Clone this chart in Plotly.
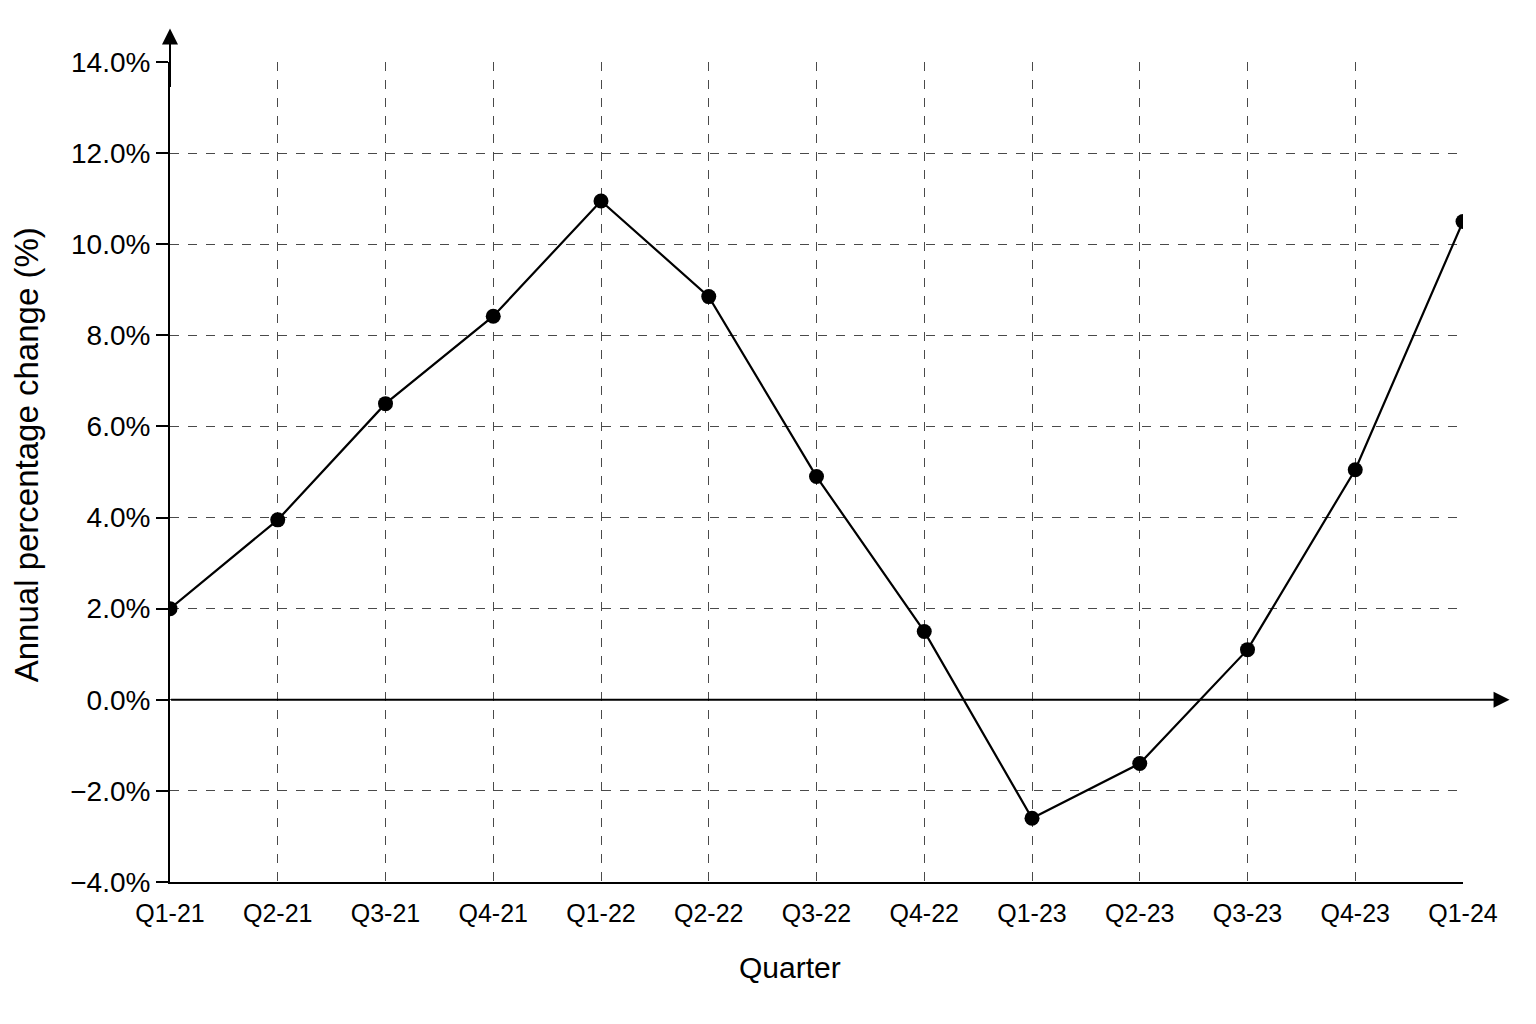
import plotly.graph_objects as go

# quarterly annual % change
quarters = ["Q1-21", "Q2-21", "Q3-21", "Q4-21", "Q1-22", "Q2-22", "Q3-22",
            "Q4-22", "Q1-23", "Q2-23", "Q3-23", "Q4-23", "Q1-24"]
change_pct = [2.0, 3.95, 6.5, 8.42, 10.95, 8.85, 4.9,
              1.5, -2.6, -1.4, 1.1, 5.05, 10.5]
y_ticks = [-4, -2, 0, 2, 4, 6, 8, 10, 12, 14]

font_family = "Liberation Sans Narrow, Liberation Sans, Arial, sans-serif"
grid_col = "#4a4a4a"

fig = go.Figure()
fig.add_trace(go.Scatter(
    x=quarters,
    y=change_pct,
    mode="lines+markers",
    line=dict(color="black", width=2.2),
    marker=dict(color="black", size=15),
    showlegend=False,
))

# page has an 8px body margin, so margins are shifted by 8
fig.update_layout(
    width=1536,
    height=1024,
    paper_bgcolor="white",
    plot_bgcolor="white",
    margin=dict(l=162, r=81, t=54, b=150),
    font=dict(family=font_family, size=26, color="black"),
    xaxis=dict(
        type="category",
        range=[0, len(quarters) - 1],
        showgrid=True,
        gridcolor=grid_col,
        griddash="dash",
        gridwidth=1,
        showline=True,
        linecolor="black",
        linewidth=2,
        ticks="",
        ticklabelstandoff=8,
        tickfont=dict(size=25),
        zeroline=False,
    ),
    yaxis=dict(
        range=[-4, 14],
        tickvals=y_ticks,
        ticktext=[("\u2212" if v < 0 else "") + f"{abs(v):.1f}%" for v in y_ticks],
        showgrid=True,
        gridcolor=grid_col,
        griddash="dash",
        gridwidth=1,
        showline=True,
        linecolor="black",
        linewidth=2,
        ticks="outside",
        ticklen=12,
        tickwidth=2,
        tickcolor="black",
        tickfont=dict(size=28),
        zeroline=False,
    ),
)

# axis titles placed as annotations to match the reference positions
fig.add_annotation(
    text="Quarter", x=0.4795, y=-0.104, xref="paper", yref="paper",
    showarrow=False, font=dict(size=30), xanchor="center", yanchor="middle",
)
fig.add_annotation(
    text="Annual percentage change (%)", x=-0.111, y=0.521, xref="paper", yref="paper",
    showarrow=False, font=dict(size=33), textangle=-90,
    xanchor="center", yanchor="middle",
)

# zero line with arrow extending past the plot
fig.add_annotation(
    x=1.036, y=0, xref="paper", yref="y",
    ax=-1340, ay=0, axref="pixel", ayref="pixel",
    showarrow=True, arrowhead=2, arrowsize=1.6, arrowwidth=2, arrowcolor="black",
    text="",
)
# y axis arrow at the top
fig.add_annotation(
    x=0, y=1.041, xref="paper", yref="paper",
    ax=0, ay=60, axref="pixel", ayref="pixel",
    showarrow=True, arrowhead=2, arrowsize=1.6, arrowwidth=2, arrowcolor="black",
    text="",
)

fig.write_html("out.html")
